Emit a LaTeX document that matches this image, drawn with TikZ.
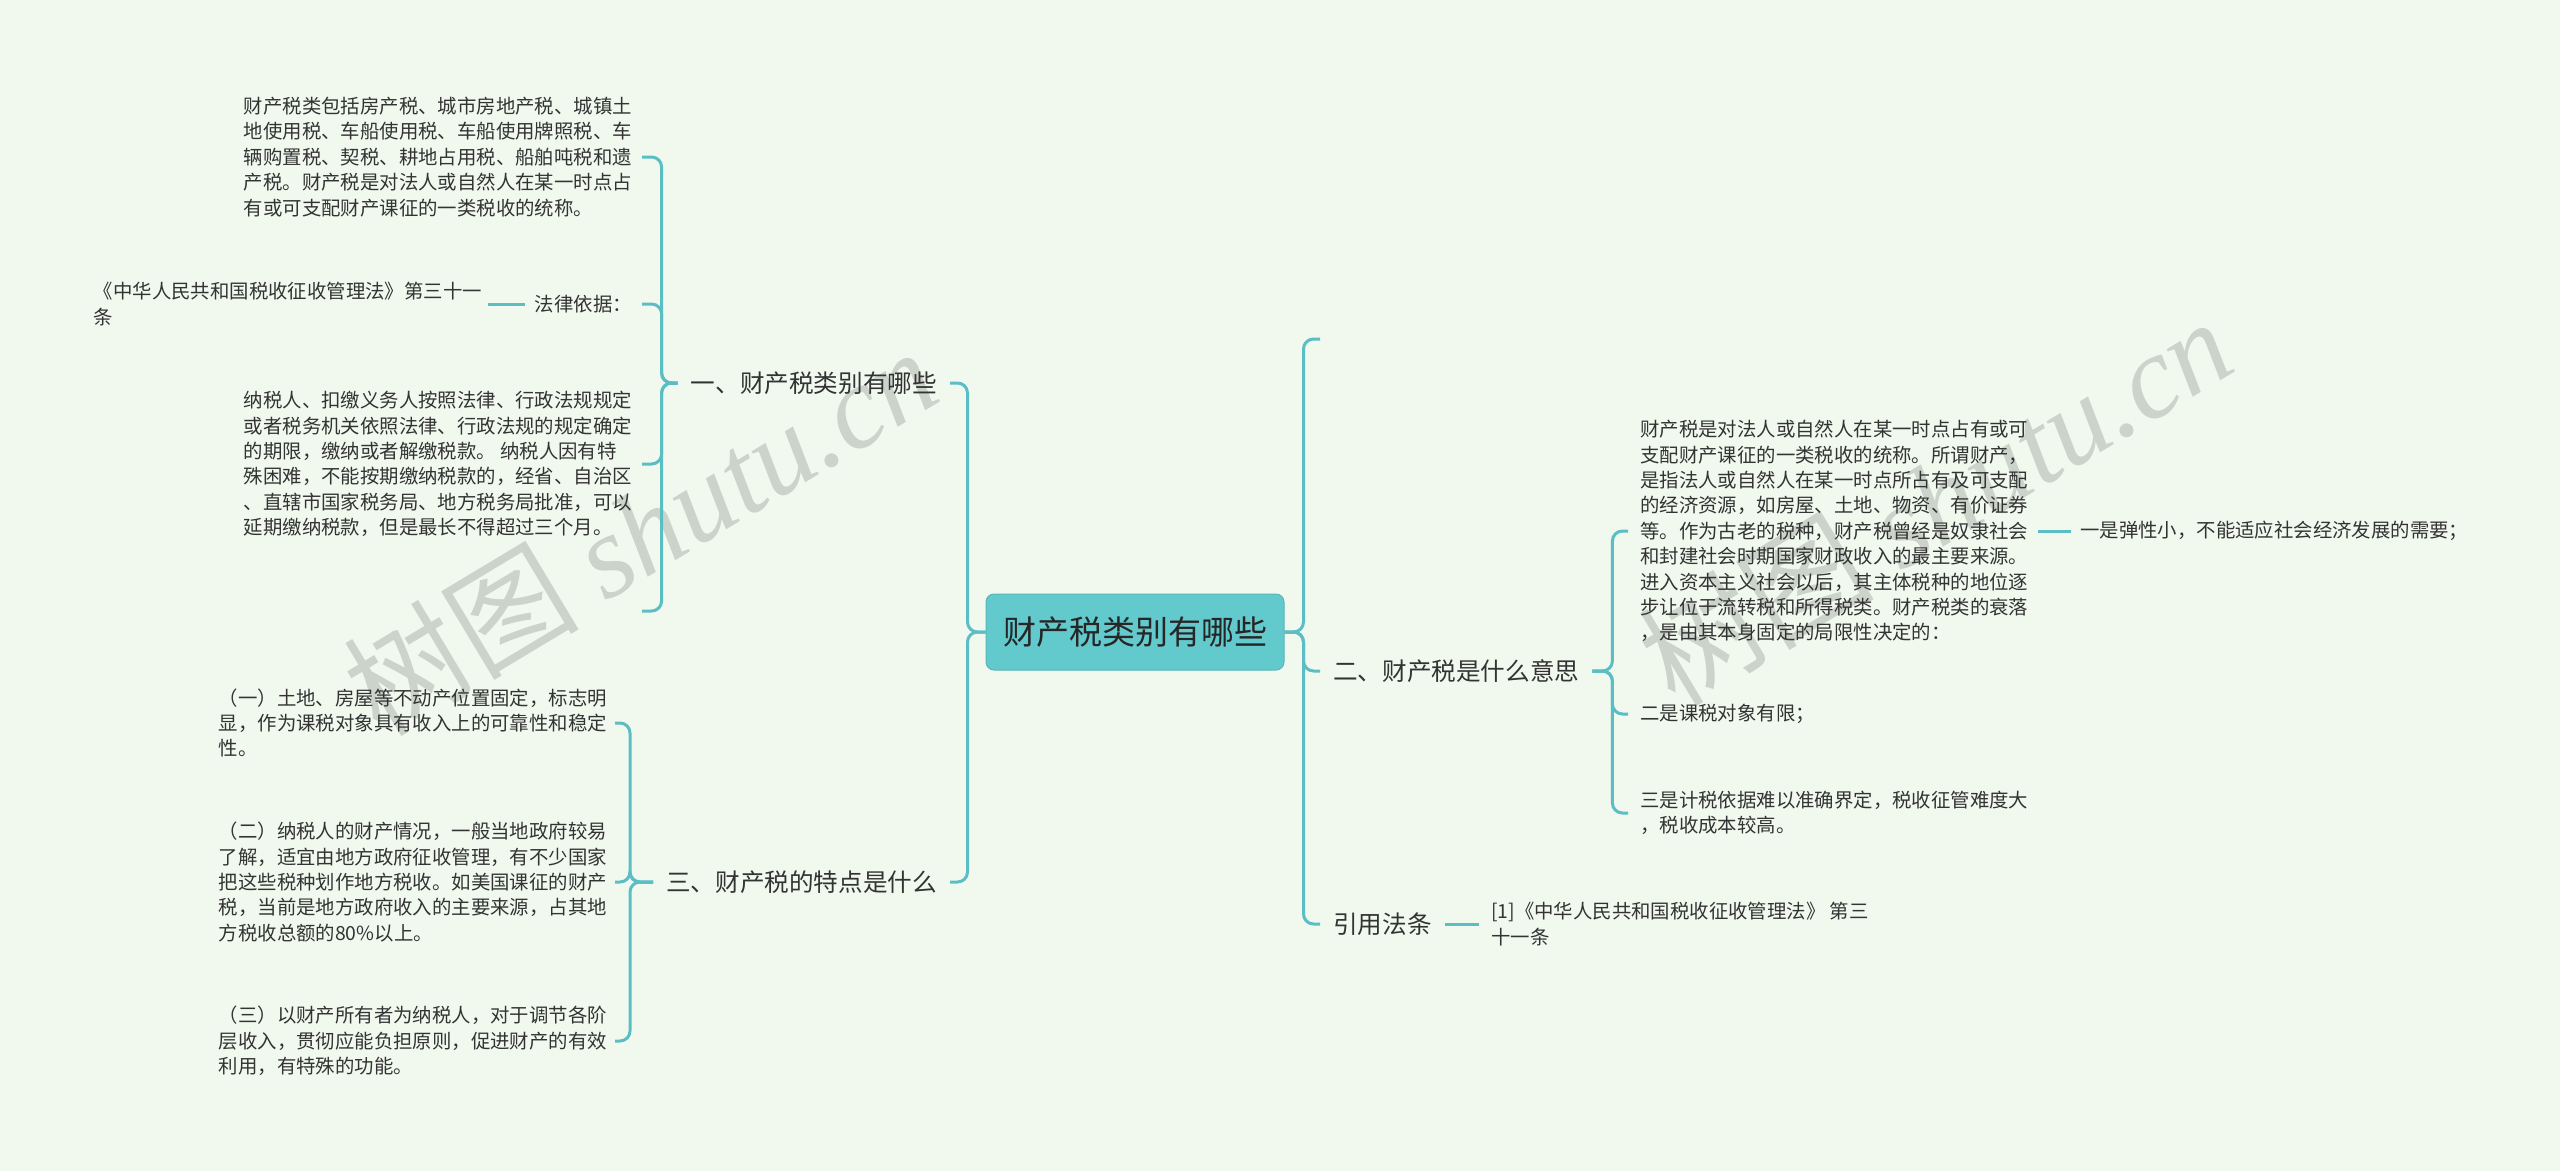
\documentclass[tikz,border=0pt]{standalone}
\usepackage{fontspec}
\setmainfont{Noto Sans CJK SC}
\newfontfamily\wmfont{Liberation Serif}
\definecolor{bgc}{RGB}{241,249,239}
\definecolor{linec}{RGB}{91,190,197}
\definecolor{rootc}{RGB}{98,201,205}
\definecolor{txtc}{RGB}{51,51,51}
\definecolor{wmc}{RGB}{175,180,175}
\begin{document}
\begin{tikzpicture}[x=1pt,y=-1pt,
  conn/.style={draw=linec, line width=3pt, rounded corners=10pt},
  leaf/.style={font=\fontsize{19.4}{25.4}\selectfont, text=txtc, align=left, inner ysep=0pt, inner xsep=10pt},
  branch/.style={font=\fontsize{24.6}{30}\selectfont, text=txtc, inner ysep=0pt, inner xsep=13pt},
  rootbox/.style={font=\fontsize{33}{40}\selectfont, text=black!85, fill=rootc, draw=rootc!90!black, line width=1pt, rounded corners=8pt, minimum width=298pt, minimum height=76pt, inner sep=0pt},
  wm/.style={text=wmc, opacity=0.55, rotate=31, font=\fontsize{118}{130}\selectfont, inner sep=0pt}
]
\path[use as bounding box, fill=bgc] (0,0) rectangle (2560,1171);

% watermarks
\node[wm] (wm1) at (640,530) {树图 {\wmfont\itshape shutu.cn}};
\node[wm] (wm2) at (1935,500) {树图 {\wmfont\itshape shutu.cn}};

% root
\node[rootbox] (root) at (1135,632) {财产税类别有哪些};

% left main branches
\node[branch, anchor=east] (b1) at (950,383) {一、财产税类别有哪些};
\node[branch, anchor=east] (b3) at (950,882) {三、财产税的特点是什么};
\draw[conn] (root.west) -- ++(-18,0) |- (b1.east);
\draw[conn] (root.west) -- ++(-18,0) |- (b3.east);

% branch 1 children
\node[leaf, anchor=east] (c11) at (642,157) {财产税类包括房产税、城市房地产税、城镇土\\地使用税、车船使用税、车船使用牌照税、车\\辆购置税、契税、耕地占用税、船舶吨税和遗\\产税。财产税是对法人或自然人在某一时点占\\有或可支配财产课征的一类税收的统称。};
\node[leaf, anchor=east] (c12) at (642,304) {法律依据：};
\node[leaf, anchor=east] (c13) at (642,464) {纳税人、扣缴义务人按照法律、行政法规规定\\或者税务机关依照法律、行政法规的规定确定\\的期限，缴纳或者解缴税款。 纳税人因有特\\殊困难，不能按期缴纳税款的，经省、自治区\\、直辖市国家税务局、地方税务局批准，可以\\延期缴纳税款，但是最长不得超过三个月。};
\coordinate (e1) at (642,611);
\draw[conn] (b1.west) -- ++(-16,0) |- (c11.east);
\draw[conn] (b1.west) -- ++(-16,0) |- (c12.east);
\draw[conn] (b1.west) -- ++(-16,0) |- (c13.east);
\draw[conn] (b1.west) -- ++(-16,0) |- (e1);

\node[leaf, anchor=east, inner xsep=6pt] (c121) at (488,304) {《中华人民共和国税收征收管理法》第三十一\\条};
\draw[conn] (c12.west) -- (c121.east);

% branch 3 children
\node[leaf, anchor=east, inner xsep=8pt] (c31) at (615,723) {（一）土地、房屋等不动产位置固定，标志明\\显，作为课税对象具有收入上的可靠性和稳定\\性。};
\node[leaf, anchor=east, inner xsep=8pt] (c32) at (615,882) {（二）纳税人的财产情况，一般当地政府较易\\了解，适宜由地方政府征收管理，有不少国家\\把这些税种划作地方税收。如美国课征的财产\\税，当前是地方政府收入的主要来源，占其地\\方税收总额的80\%以上。};
\node[leaf, anchor=east, inner xsep=8pt] (c33) at (615,1041) {（三）以财产所有者为纳税人，对于调节各阶\\层收入，贯彻应能负担原则，促进财产的有效\\利用，有特殊的功能。};
\draw[conn] (b3.west) -- ++(-23,0) |- (c31.east);
\draw[conn] (b3.west) -- ++(-23,0) |- (c32.east);
\draw[conn] (b3.west) -- ++(-23,0) |- (c33.east);

% right main branches
\coordinate (e2) at (1320,339);
\node[branch, anchor=west] (b2) at (1320,671) {二、财产税是什么意思};
\node[branch, anchor=west] (b4) at (1320,924) {引用法条};
\draw[conn] (root.east) -- ++(19,0) |- (e2);
\draw[conn] (root.east) -- ++(19,0) |- (b2.west);
\draw[conn] (root.east) -- ++(19,0) |- (b4.west);

% branch 2 children
\node[leaf, anchor=west, inner xsep=12pt] (c21) at (1628,531) {财产税是对法人或自然人在某一时点占有或可\\支配财产课征的一类税收的统称。所谓财产，\\是指法人或自然人在某一时点所占有及可支配\\的经济资源，如房屋、土地、物资、有价证券\\等。作为古老的税种，财产税曾经是奴隶社会\\和封建社会时期国家财政收入的最主要来源。\\进入资本主义社会以后，其主体税种的地位逐\\步让位于流转税和所得税类。财产税类的衰落\\，是由其本身固定的局限性决定的：};
\node[leaf, anchor=west, inner xsep=12pt] (c22) at (1628,714) {二是课税对象有限；};
\node[leaf, anchor=west, inner xsep=12pt] (c23) at (1628,813) {三是计税依据难以准确界定，税收征管难度大\\，税收成本较高。};
\draw[conn] (b2.east) -- ++(20,0) |- (c21.west);
\draw[conn] (b2.east) -- ++(20,0) |- (c22.west);
\draw[conn] (b2.east) -- ++(20,0) |- (c23.west);

\node[leaf, anchor=west, inner xsep=9pt] (c211) at (2071,531) {一是弹性小，不能适应社会经济发展的需要；};
\draw[conn] ([xshift=-2pt]c21.east) -- (c211.west);

% branch 4 child
\node[leaf, anchor=west, inner xsep=12pt] (c41) at (1479,924) {[1]《中华人民共和国税收征收管理法》 第三\\十一条};
\draw[conn] (b4.east) -- (c41.west);
\end{tikzpicture}
\end{document}
